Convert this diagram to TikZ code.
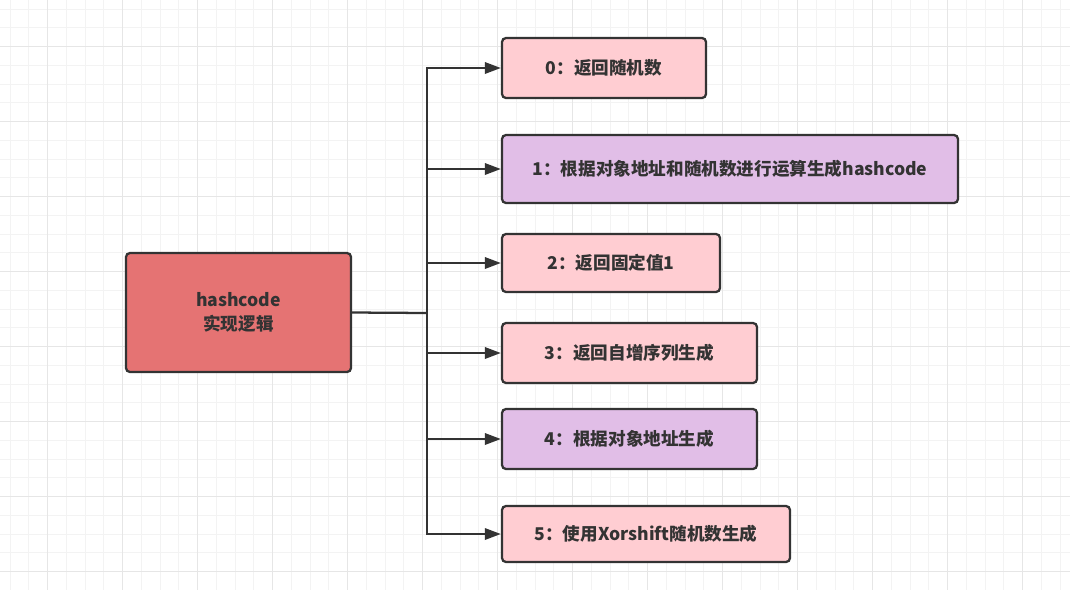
\documentclass[tikz,border=0pt]{standalone}
\usepackage{fontspec}
\setmainfont{Noto Sans CJK SC}
\usetikzlibrary{arrows.meta}

\definecolor{gridminor}{HTML}{F3F3F3}
\definecolor{gridmajor}{HTML}{E6E6E6}
\definecolor{edgegray}{HTML}{333333}
\definecolor{redfill}{HTML}{E57373}
\definecolor{pinkfill}{HTML}{FFCDD2}
\definecolor{purplefill}{HTML}{E1BEE7}

\begin{document}
\begin{tikzpicture}[x=0.75pt, y=-0.75pt,
    box/.style={draw=edgegray, line width=1.7pt, rounded corners=3pt,
        text=edgegray, font=\fontsize{13.2}{17.5}\selectfont\bfseries, align=center,
        inner sep=0pt},
    link/.style={draw=edgegray, line width=1.7pt},
    branch/.style={link, -{Triangle[length=12pt, width=8.5pt]}}]
        \useasboundingbox (0,0) rectangle (1070,590);
        \fill[white] (0,0) rectangle (1070,590);
        \foreach \gx in {10.2,28.95,...,1070} {
            \draw[gridminor, line width=0.75pt] (\gx,0) -- (\gx,590);
        }
        \foreach \gy in {9,27.75,...,590} {
            \draw[gridminor, line width=0.75pt] (0,\gy) -- (1070,\gy);
        }
        \foreach \gx in {47.7,122.7,...,1070} {
            \draw[gridmajor, line width=0.75pt] (\gx,0) -- (\gx,590);
        }
        \foreach \gy in {46.5,121.5,...,590} {
            \draw[gridmajor, line width=0.75pt] (0,\gy) -- (1070,\gy);
        }

        \node[box, fill=redfill, minimum width=168.75pt, minimum height=89.25pt] (logic) at (238.5,312.5) {hashcode\\实现逻辑};
        \node[box, fill=pinkfill, minimum width=153pt, minimum height=45pt] (mode0) at (604,68) {0：返回随机数};
        \node[box, fill=purplefill, minimum width=342pt, minimum height=51pt] (mode1) at (730,169) {1：根据对象地址和随机数进行运算生成hashcode};
        \node[box, fill=pinkfill, minimum width=163.5pt, minimum height=43.5pt] (mode2) at (611,263) {2：返回固定值1};
        \node[box, fill=pinkfill, minimum width=191.25pt, minimum height=45pt] (mode3) at (629.5,353) {3：返回自增序列生成};
        \node[box, fill=purplefill, minimum width=191.25pt, minimum height=45pt] (mode4) at (629.5,439) {4：根据对象地址生成};
        \node[box, fill=pinkfill, minimum width=216pt, minimum height=42pt] (mode5) at (646,534) {5：使用Xorshift随机数生成};

        \coordinate (hub) at (427,313);
        \draw[link] (logic.east) -- (hub);
        \foreach \m in {mode0,mode1,mode2,mode3,mode4,mode5} {
            \draw[branch] (hub) |- (\m.west);
        }
    \end{tikzpicture}
\end{document}
